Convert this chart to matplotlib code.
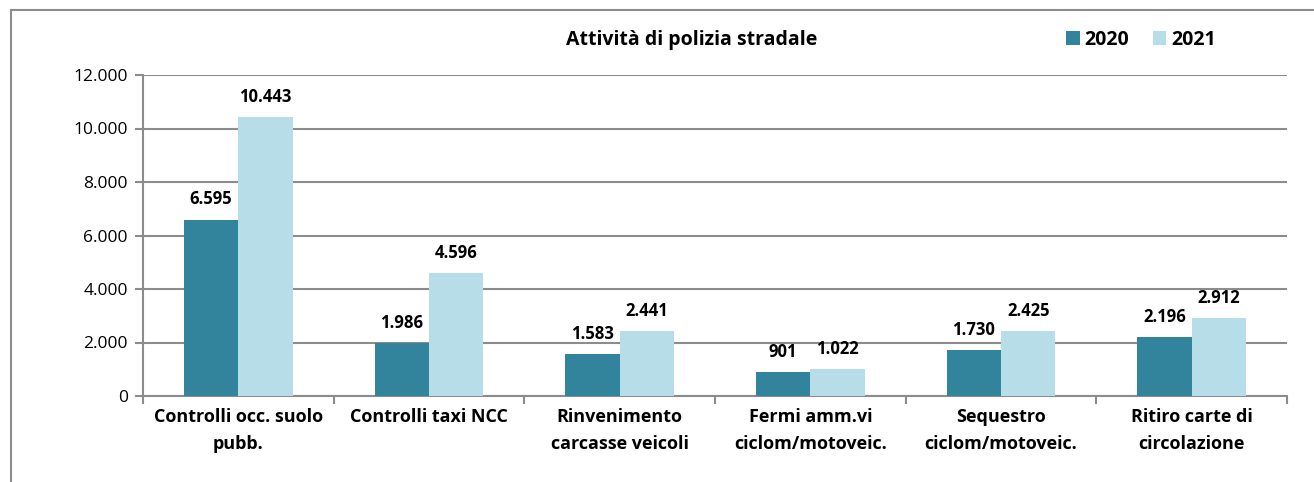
import numpy as np
import matplotlib.pyplot as plt
from matplotlib.lines import Line2D

categories = ['Controlli occ. suolo\npubb.', 'Controlli taxi NCC', 'Rinvenimento\ncarcasse veicoli',
              'Fermi amm.vi\nciclom/motoveic.', 'Sequestro\nciclom/motoveic.', 'Ritiro carte di\ncircolazione']
values_2020 = [6595, 1986, 1583, 901, 1730, 2196]
values_2021 = [10443, 4596, 2441, 1022, 2425, 2912]
series_names = ['2020', '2021']
y_ticks = [0, 2000, 4000, 6000, 8000, 10000, 12000]

COL_2020 = '#31849B'
COL_2021 = '#B7DEE8'
GRID = '#8c8c8c'

plt.rcParams['font.family'] = ['Open Sans', 'DejaVu Sans']


def fmt(v):
    return f'{v:,}'.replace(',', '.')


fig = plt.figure(figsize=(13.14, 4.82), dpi=100)
ax = fig.add_axes([143 / 1314, 1 - 396 / 482, 1144 / 1314, 321 / 482])

x = np.arange(len(categories))
w = 0.285
b1 = ax.bar(x - w / 2, values_2020, w, color=COL_2020, zorder=3, label=series_names[0])
b2 = ax.bar(x + w / 2, values_2021, w, color=COL_2021, zorder=3, label=series_names[1])

for bars in (b1, b2):
    for rect in bars:
        ax.annotate(fmt(int(rect.get_height())), (rect.get_x() + rect.get_width() / 2, rect.get_height()),
                    xytext=(0, 8), textcoords='offset points', ha='center', va='bottom',
                    fontsize=12, fontweight='bold')

ax.set_xlim(-0.5, len(categories) - 0.5)
ax.set_ylim(0, 12000)
ax.set_yticks(y_ticks)
ax.set_yticklabels([fmt(v) for v in y_ticks], fontsize=12.5)
ax.yaxis.grid(True, color=GRID, linewidth=1.5, zorder=0)

ax.set_xticks(np.arange(len(categories) + 1) - 0.5)
ax.set_xticklabels([])
ax.set_xticks(x, minor=True)
ax.set_xticklabels(categories, minor=True, fontsize=13, fontweight='bold', linespacing=1.6)
ax.tick_params(axis='x', which='minor', length=0, pad=9)
ax.tick_params(axis='x', which='major', length=6, color=GRID, width=1.5)
ax.tick_params(axis='y', length=6, color=GRID, width=1.5, pad=5)

for s in ['top', 'right']:
    ax.spines[s].set_visible(False)
for s in ['left', 'bottom']:
    ax.spines[s].set_color(GRID)
    ax.spines[s].set_linewidth(1.5)

fig.text(692 / 1314, 1 - 40 / 482, 'Attività di polizia stradale', ha='center', va='center',
         fontsize=14, fontweight='bold')

leg = fig.legend(handles=[b1, b2], labels=series_names, loc='center', bbox_to_anchor=(1141 / 1314, 1 - 40 / 482),
                 ncol=2, frameon=False, prop={'size': 14, 'weight': 'bold'}, handlelength=0.7, handleheight=0.7,
                 handletextpad=0.25, columnspacing=1.2)

# chart area border (cut off at right and bottom)
fig.add_artist(Line2D([11 / 1314, 11 / 1314], [0, 1 - 10 / 482], color='#8c8c8c', linewidth=1.5))
fig.add_artist(Line2D([11 / 1314, 1], [1 - 10 / 482, 1 - 10 / 482], color='#8c8c8c', linewidth=1.5))

fig.savefig('out.png', dpi=100)
